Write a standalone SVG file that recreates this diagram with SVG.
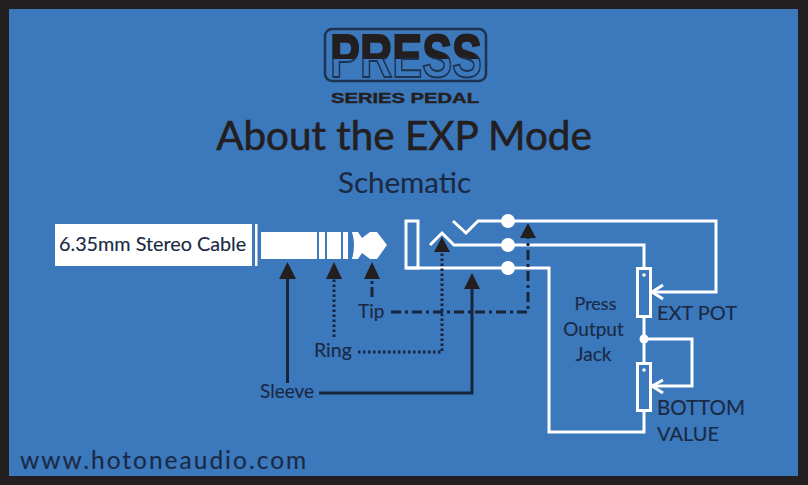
<svg xmlns="http://www.w3.org/2000/svg" width="808" height="485" viewBox="0 0 808 485">
<defs>
<style>
.w{fill:none;stroke:#fff;stroke-width:3}
.k{fill:none;stroke:#16243c;stroke-width:3}
.t{font-family:"Lato","Noto Sans",sans-serif;fill:#1a2a45;stroke:#1a2a45;stroke-width:.15}
.h{fill:#231f20}
.dot{fill:#fff}
.logo{font-family:"Liberation Sans",sans-serif;font-weight:700;font-size:62px}
</style>
<clipPath id="top"><rect x="320" y="25" width="170" height="34"/></clipPath>
<clipPath id="bot"><rect x="320" y="57" width="170" height="28"/></clipPath>
<text id="pressword" x="330" y="77" class="logo" textLength="152" lengthAdjust="spacingAndGlyphs">PRESS</text>
</defs>
<rect width="808" height="485" fill="#231f20"/>
<rect x="9" y="9" width="789" height="467" fill="#3c78bc"/>
<g id="logo">
<rect x="325" y="29" width="161" height="52" rx="7" fill="#3c78bc" stroke="#1d3350" stroke-width="2.500"/>
<use href="#pressword" fill="#3c78bc" stroke="#3c78bc" stroke-width="4" stroke-linejoin="miter"/>
<use href="#pressword" fill="#231f20" stroke="#231f20" stroke-width="2" clip-path="url(#top)"/>
<use href="#pressword" fill="none" stroke="#1d3350" stroke-width="2" clip-path="url(#bot)"/>
<text x="331" y="103" font-family="Liberation Sans,sans-serif" font-weight="700" font-size="14" textLength="148" lengthAdjust="spacingAndGlyphs" fill="#231f20" stroke="#231f20" stroke-width=".4">SERIES PEDAL</text>
</g>
<text id="title" x="404" y="150" text-anchor="middle" font-family="Lato,sans-serif" font-size="40.400" fill="#231f20" stroke="#231f20" stroke-width=".6">About the EXP Mode</text>
<text id="subtitle" x="404.500" y="193" text-anchor="middle" class="t" font-size="29.500">Schematic</text>
<g id="plug">
<rect x="55" y="224" width="197" height="42" fill="#fff"/>
<rect x="255" y="224" width="2.500" height="42" fill="#fff"/>
<rect x="261" y="232" width="56" height="27" fill="#fff"/>
<rect x="319" y="232" width="6" height="27" fill="#fff"/>
<rect x="327" y="232" width="14" height="27" fill="#fff"/>
<rect x="343" y="232" width="5" height="27" fill="#fff"/>
<path d="M352 232H358L362 238L370 232H377L387 245L377 259H370L362 253L358 259H352Q356 245 352 232Z" fill="#fff"/>
<text x="59" y="251" class="t" font-size="19.800" fill="#231f20">6.35mm Stereo Cable</text>
</g>
<g id="jack">
<rect x="406" y="221" width="12" height="47" class="w"/>
<path class="w" d="M453 221L466 233L478 221H508M430 245L442 233L454 245H508M406 268H508"/>
<circle class="dot" cx="508" cy="221" r="7"/><circle class="dot" cx="508" cy="245" r="7"/><circle class="dot" cx="508" cy="268" r="7"/>
</g>
<g id="pots">
<rect x="637.500" y="268.500" width="13" height="48" class="w"/>
<rect x="637.500" y="363.500" width="13" height="47" class="w"/>
<circle class="dot" cx="644" cy="275" r="1.800"/><circle class="dot" cx="644" cy="370" r="1.800"/>
<circle class="dot" cx="644" cy="339" r="4.500"/>
<path class="w" d="M663 285L652 292L663 299M663 380L652 386L663 393"/>
</g>
<g id="connectors">
<path class="w" d="M508 221H716V292H652M508 245H644V268M508 268H549V432H644V411M644 317V363M644 339H692V386H652"/>
<path class="k" d="M287.500 383V275"/>
<path class="k" stroke-dasharray="2.500 2.500" d="M334 337V279"/>
<path class="k" stroke-dasharray="10 3 3 3" d="M372 297V279"/>
<path class="k" d="M319 393H472V286"/>
<path class="k" stroke-dasharray="2.500 2.500" d="M358 352H442V250"/>
<path class="k" stroke-dasharray="10 4 3 4" d="M391 312H528V236"/>
<path class="h" d="M279 279L287.500 262L296 279ZM326 279L334 262L342 279ZM364 279L372 262L380 279ZM464 289L472 273L480 289ZM434 252L442 237L450 252ZM520 238L528 223L536 238Z"/>
</g>
<g id="labels">
<text x="358" y="318" class="t" font-size="19">Tip</text>
<text x="314" y="357" class="t" font-size="19.500">Ring</text>
<text x="260" y="398" class="t" font-size="19">Sleeve</text>
<text x="595.500" y="310" text-anchor="middle" class="t" font-size="18">Press</text>
<text x="593.500" y="336" text-anchor="middle" class="t" font-size="19">Output</text>
<text x="593.500" y="361" text-anchor="middle" class="t" font-size="19">Jack</text>
<text x="657" y="320" class="t" font-size="20">EXT POT</text>
<text x="657" y="415" class="t" font-size="20.500">BOTTOM</text>
<text x="657" y="441" class="t" font-size="20">VALUE</text>
<text x="20" y="469" class="t" font-size="24.500" letter-spacing="2">www.hotoneaudio.com</text>
</g>
</svg>
